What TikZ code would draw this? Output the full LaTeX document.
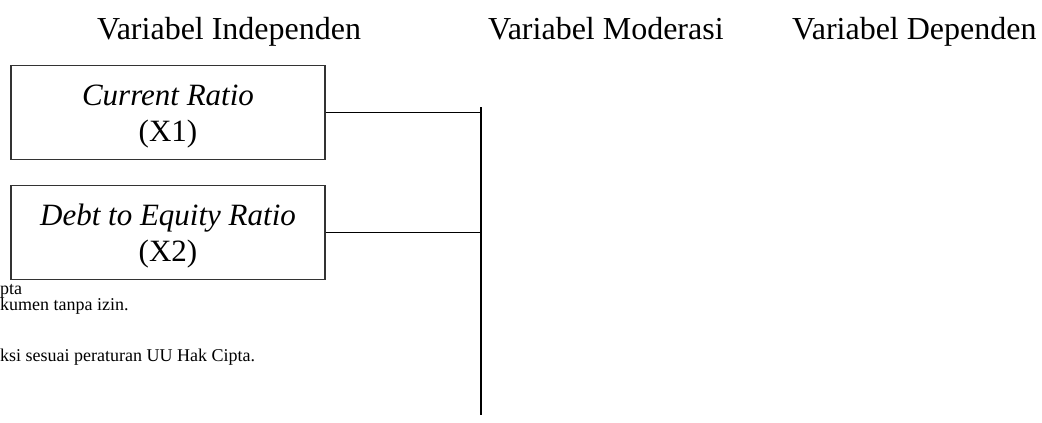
\documentclass[tikz,border=0pt]{standalone}
\usepackage{fontspec}
\setmainfont{Liberation Serif}
\begin{document}
\begin{tikzpicture}[x=1pt,y=-1pt,
  varbox/.style={draw=black!80,line width=1.4pt,minimum width=314pt,minimum height=94pt,inner sep=0pt},
  boxtext/.style={inner sep=0pt,align=center,font=\fontsize{31}{36}\selectfont},
  head/.style={font=\fontsize{32}{36}\selectfont,inner sep=0pt,anchor=base west},
  foot/.style={font=\fontsize{18}{21}\selectfont,inner sep=0pt,anchor=base west},
  conn/.style={line width=1.5pt,black}]
\useasboundingbox (0,0) rectangle (1042,423);
\node[head] (h1) at (97,39) {Variabel Independen};
\node[head] (h2) at (488,39) {Variabel Moderasi};
\node[head] (h3) at (792,39) {Variabel Dependen};
\node[varbox] (x1) at (168,112.5) {};
\node[boxtext] (t1) at ([yshift=-4pt]x1.center) {\textit{Current Ratio}\\(X1)};
\node[varbox] (x2) at (168,232.5) {};
\node[boxtext] (t2) at ([yshift=-4pt]x2.center) {\textit{Debt to Equity Ratio}\\(X2)};
\coordinate (vt) at (481,107);
\coordinate (vb) at (481,415);
\draw[conn] (vt) -- (vb);
\draw[conn] (x1.east) -- (x1.east -| vt);
\draw[conn] (x2.east) -- (x2.east -| vt);
\node[foot] (f1) at (0,294) {pta};
\node[foot] (f2) at (0,310) {kumen tanpa izin.};
\node[foot] (f3) at (0,361) {ksi sesuai peraturan UU Hak Cipta.};
\end{tikzpicture}
\end{document}
